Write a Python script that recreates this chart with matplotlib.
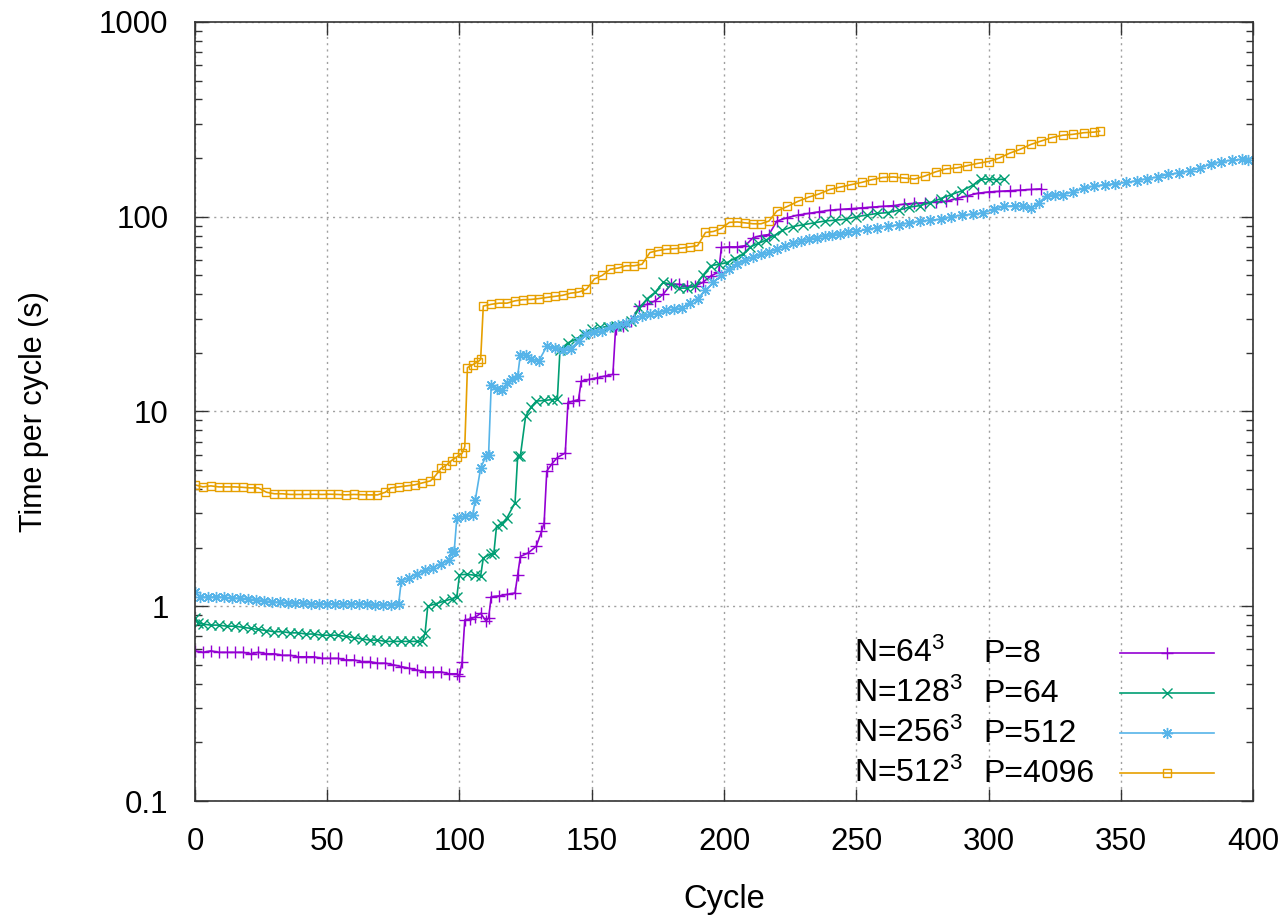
import matplotlib.pyplot as plt
from matplotlib.ticker import FixedLocator, FixedFormatter, NullFormatter

plt.rcParams['font.family'] = ['Liberation Sans', 'DejaVu Sans']
plt.rcParams['mathtext.fontset'] = 'custom'
plt.rcParams['mathtext.rm'] = 'Liberation Sans'
plt.rcParams['mathtext.it'] = 'Liberation Sans:italic'

# N=64^3, P=8
cyc_p8 = [0, 3, 6, 9, 12, 15, 18, 21, 24, 27, 30, 33, 36, 39, 42, 45, 48, 51, 54, 57,
          60, 63, 66, 69, 72, 75, 78, 81, 84, 87, 90, 93, 96, 99, 100, 101, 102, 104, 106, 108,
          110, 111, 112, 115, 118, 121, 122, 123, 126, 129, 131, 132, 133, 135, 137, 140, 141, 143, 145, 146,
          149, 152, 155, 158, 159, 162, 165, 168, 171, 174, 177, 180, 183, 186, 189, 192, 195, 198, 199, 202,
          205, 208, 211, 214, 217, 220, 224, 228, 232, 236, 240, 244, 248, 252, 256, 260, 264, 268, 272, 276,
          280, 284, 288, 292, 296, 300, 304, 308, 312, 316, 320]
t_p8 = [0.59, 0.58, 0.59, 0.58, 0.58, 0.58, 0.58, 0.57, 0.58, 0.57, 0.57, 0.56, 0.56, 0.55, 0.55, 0.55, 0.54, 0.54, 0.54, 0.53,
        0.53, 0.52, 0.52, 0.51, 0.51, 0.50, 0.49, 0.48, 0.47, 0.46, 0.46, 0.46, 0.45, 0.45, 0.44, 0.52, 0.85, 0.86, 0.88, 0.92,
        0.84, 0.87, 1.12, 1.13, 1.15, 1.17, 1.45, 1.80, 1.88, 2.03, 2.42, 2.68, 4.94, 5.4, 5.8, 6.13, 11.1, 11.3, 11.5, 14.3,
        14.6, 14.9, 15.2, 15.5, 26.5, 27.5, 29, 34.9, 35.5, 37, 40, 45, 45, 44, 44, 46, 49.6, 52, 69.5, 70,
        70, 71, 78, 80, 81, 95, 99, 102, 104, 106, 108, 109, 110, 111, 112, 113, 114, 116, 117, 118,
        119, 120, 124, 128, 132, 134, 135, 136, 137, 138, 139]

# N=128^3, P=64
cyc_p64 = [0, 1, 3, 6, 9, 12, 15, 18, 21, 24, 27, 30, 33, 36, 39, 42, 45, 48, 51, 54,
           57, 60, 63, 66, 69, 72, 75, 78, 81, 84, 86, 87, 88, 91, 94, 97, 99, 100, 103, 106,
           108, 109, 112, 113, 114, 116, 118, 121, 122, 123, 125, 127, 129, 132, 135, 137, 138, 141, 144, 147,
           150, 153, 156, 159, 162, 165, 168, 171, 174, 177, 180, 183, 186, 189, 192, 195, 198, 201, 204, 207,
           210, 213, 216, 219, 222, 226, 230, 234, 238, 242, 246, 250, 254, 258, 262, 266, 270, 274, 278, 282,
           286, 290, 294, 297, 300, 303, 306]
t_p64 = [0.87, 0.82, 0.81, 0.80, 0.80, 0.79, 0.79, 0.78, 0.77, 0.76, 0.75, 0.74, 0.74, 0.73, 0.73, 0.72, 0.72, 0.71, 0.71, 0.71,
         0.70, 0.69, 0.68, 0.67, 0.67, 0.66, 0.66, 0.66, 0.66, 0.66, 0.66, 0.73, 1.00, 1.03, 1.06, 1.09, 1.12, 1.45, 1.46, 1.44,
         1.43, 1.77, 1.86, 1.88, 2.57, 2.65, 2.85, 3.40, 5.89, 5.9, 9.44, 10.5, 11.3, 11.4, 11.5, 11.6, 20.8, 22.5, 23.5, 25.0,
         26.4, 27.0, 27.3, 27.5, 27.5, 29, 34, 38, 41, 46, 45, 43, 43, 44, 50, 56, 57, 58, 61, 64,
         70, 73, 76, 80, 85, 89, 91, 93, 95, 96, 97, 100, 102, 104, 105, 108, 112, 114, 118, 124,
         130, 136, 145, 156, 156, 155, 156]

# N=256^3, P=512
cyc_p512 = [0, 2, 5, 8, 11, 14, 17, 20, 23, 26, 29, 32, 35, 38, 41, 44, 47, 50, 53, 56,
            59, 62, 65, 68, 71, 74, 77, 78, 81, 84, 87, 90, 93, 96, 97, 98, 99, 102, 105, 106,
            108, 110, 111, 112, 114, 116, 118, 120, 122, 123, 125, 127, 130, 133, 136, 139, 142, 145, 148, 151,
            154, 157, 160, 163, 166, 169, 172, 175, 178, 181, 184, 187, 190, 193, 196, 199, 202, 205, 208, 211,
            214, 217, 220, 223, 226, 229, 232, 235, 238, 241, 244, 247, 250, 254, 258, 262, 266, 270, 274, 278,
            282, 286, 290, 294, 298, 302, 306, 310, 313, 316, 319, 322, 325, 328, 332, 336, 340, 344, 348, 352,
            356, 360, 364, 368, 372, 376, 380, 384, 388, 392, 396, 398]
t_p512 = [1.19, 1.12, 1.11, 1.12, 1.11, 1.10, 1.10, 1.09, 1.08, 1.07, 1.05, 1.05, 1.04, 1.04, 1.04, 1.03, 1.03, 1.03, 1.03, 1.03,
          1.03, 1.03, 1.03, 1.02, 1.02, 1.02, 1.03, 1.35, 1.40, 1.47, 1.53, 1.58, 1.65, 1.72, 1.91, 1.92, 2.84, 2.90, 2.95, 3.53,
          5.13, 5.89, 6.0, 13.7, 13.0, 12.9, 14.0, 14.6, 15.2, 19.6, 19.4, 18.6, 18.2, 21.6, 21.2, 20.8, 21, 23, 25, 25.5,
          26, 27, 27.8, 28.5, 30, 31, 31.5, 32, 33, 33.5, 34, 36, 38, 42, 46, 50, 54, 57, 60, 62,
          64, 66, 68, 71, 73.6, 75, 77, 78, 80, 81, 82, 83, 84, 86, 88, 89.5, 91, 93, 95, 96,
          97, 100, 102, 103, 105, 109, 113, 114, 113, 111, 118, 128, 130, 130, 134, 140, 144, 146, 148, 150,
          153, 157, 160, 165, 168, 172, 178, 186, 192, 195, 197, 196]

# N=512^3, P=4096
cyc_p4096 = [0, 3, 6, 9, 12, 15, 18, 21, 24, 27, 30, 33, 36, 39, 42, 45, 48, 51, 54, 57,
             60, 63, 66, 69, 72, 74, 77, 80, 83, 86, 89, 91, 93, 95, 97, 99, 101, 102, 103, 105,
             107, 108, 109, 112, 115, 118, 121, 124, 127, 130, 133, 136, 139, 142, 145, 148, 151, 154, 157, 160,
             163, 166, 169, 172, 175, 178, 181, 184, 187, 190, 193, 196, 199, 202, 205, 208, 211, 214, 217, 220,
             224, 228, 232, 236, 240, 244, 248, 252, 256, 260, 264, 268, 272, 276, 280, 284, 288, 292, 296, 300,
             304, 308, 312, 316, 320, 324, 328, 332, 336, 340, 342]
t_p4096 = [4.2, 4.1, 4.15, 4.1, 4.1, 4.1, 4.08, 4.05, 4.05, 3.85, 3.78, 3.78, 3.75, 3.75, 3.75, 3.76, 3.75, 3.76, 3.75, 3.73,
           3.75, 3.74, 3.73, 3.73, 3.85, 4.05, 4.10, 4.15, 4.2, 4.3, 4.4, 4.7, 5.1, 5.3, 5.6, 5.85, 6.1, 6.6, 16.8, 17.4,
           18, 18.5, 34.8, 35.5, 36, 36, 37, 37.5, 37.6, 38, 38.5, 39, 39.5, 40.5, 41, 42.4, 47.9, 50, 53.8, 54.5,
           56, 56, 57, 65.5, 67, 68, 68.5, 69, 70, 71, 83, 84, 87, 93.5, 94, 93, 92, 92, 95, 107,
           113, 120, 126, 131, 138, 142, 146, 150, 155, 159, 160, 158, 156, 162, 170, 176, 178, 183, 188, 192,
           200, 212, 222, 235, 245, 255, 262, 265, 270, 272, 275]

n_labels = ['N=64$^3$', 'N=128$^3$', 'N=256$^3$', 'N=512$^3$']
p_labels = ['P=8', 'P=64', 'P=512', 'P=4096']
colors = ['#9400d3', '#009e73', '#56b4e9', '#e69f00']
markers = ['+', 'x', (8, 2, 0), 's']
msizes = [9, 7, 8, 6]

fig = plt.figure(figsize=(12.87, 9.19), dpi=100)
ax = fig.add_axes([0.1515, 0.1284, 0.8221, 0.8477])

series = [(cyc_p8, t_p8), (cyc_p64, t_p64), (cyc_p512, t_p512), (cyc_p4096, t_p4096)]
for (x, y), c, m, ms in zip(series, colors, markers, msizes):
    ax.plot(x, y, color=c, lw=1.2, marker=m, ms=ms, mew=1.0,
            mfc='none' if m == 's' else c)

ax.set_yscale('log')
ax.set_xlim(0, 400)
ax.set_ylim(0.1, 1000)

ax.xaxis.set_major_locator(FixedLocator(range(0, 401, 50)))
ax.yaxis.set_major_locator(FixedLocator([0.1, 1, 10, 100, 1000]))
ax.yaxis.set_major_formatter(FixedFormatter(['0.1', '1', '10', '100', '1000']))
minor = [k * 10.0 ** e for e in range(-1, 3) for k in range(2, 10)]
ax.yaxis.set_minor_locator(FixedLocator(minor))
ax.yaxis.set_minor_formatter(NullFormatter())

ax.tick_params(which='both', direction='in', top=True, right=True, colors='#333333',
               labelcolor='black', labelsize=22.5, pad=19)
ax.tick_params(which='major', length=9, width=1.0)
ax.tick_params(which='minor', length=5, width=1.0)
for s in ax.spines.values():
    s.set_color('#333333')
    s.set_linewidth(1.2)

ax.grid(True, which='major', color='#a0a0a0', lw=1.0, linestyle=(0, (1.5, 3)))

ax.set_xlabel('Cycle', fontsize=23.5, labelpad=19)
ax.set_ylabel('Time per cycle (s)', fontsize=22, labelpad=36)

# key drawn by hand (gnuplot style: text left, sample on the right)
key_rows = [0.1789, 0.1275, 0.0761, 0.0248]
for nl, pl, c, m, ms, yb in zip(n_labels, p_labels, colors, markers, msizes, key_rows):
    ax.text(0.6229, yb, nl, transform=ax.transAxes, fontsize=23, ha='left', va='baseline')
    ax.text(0.7448, yb, pl, transform=ax.transAxes, fontsize=23, ha='left', va='baseline')
    yl = yb + 0.0112
    ax.plot([0.8743, 0.9631], [yl, yl], transform=ax.transAxes, color=c, lw=1.2, clip_on=False)
    ax.plot([0.9187], [yl], transform=ax.transAxes, color=c, marker=m, ms=ms, mew=1.0,
            mfc='none' if m == 's' else c, clip_on=False)

fig.savefig('out.png', dpi=100)
